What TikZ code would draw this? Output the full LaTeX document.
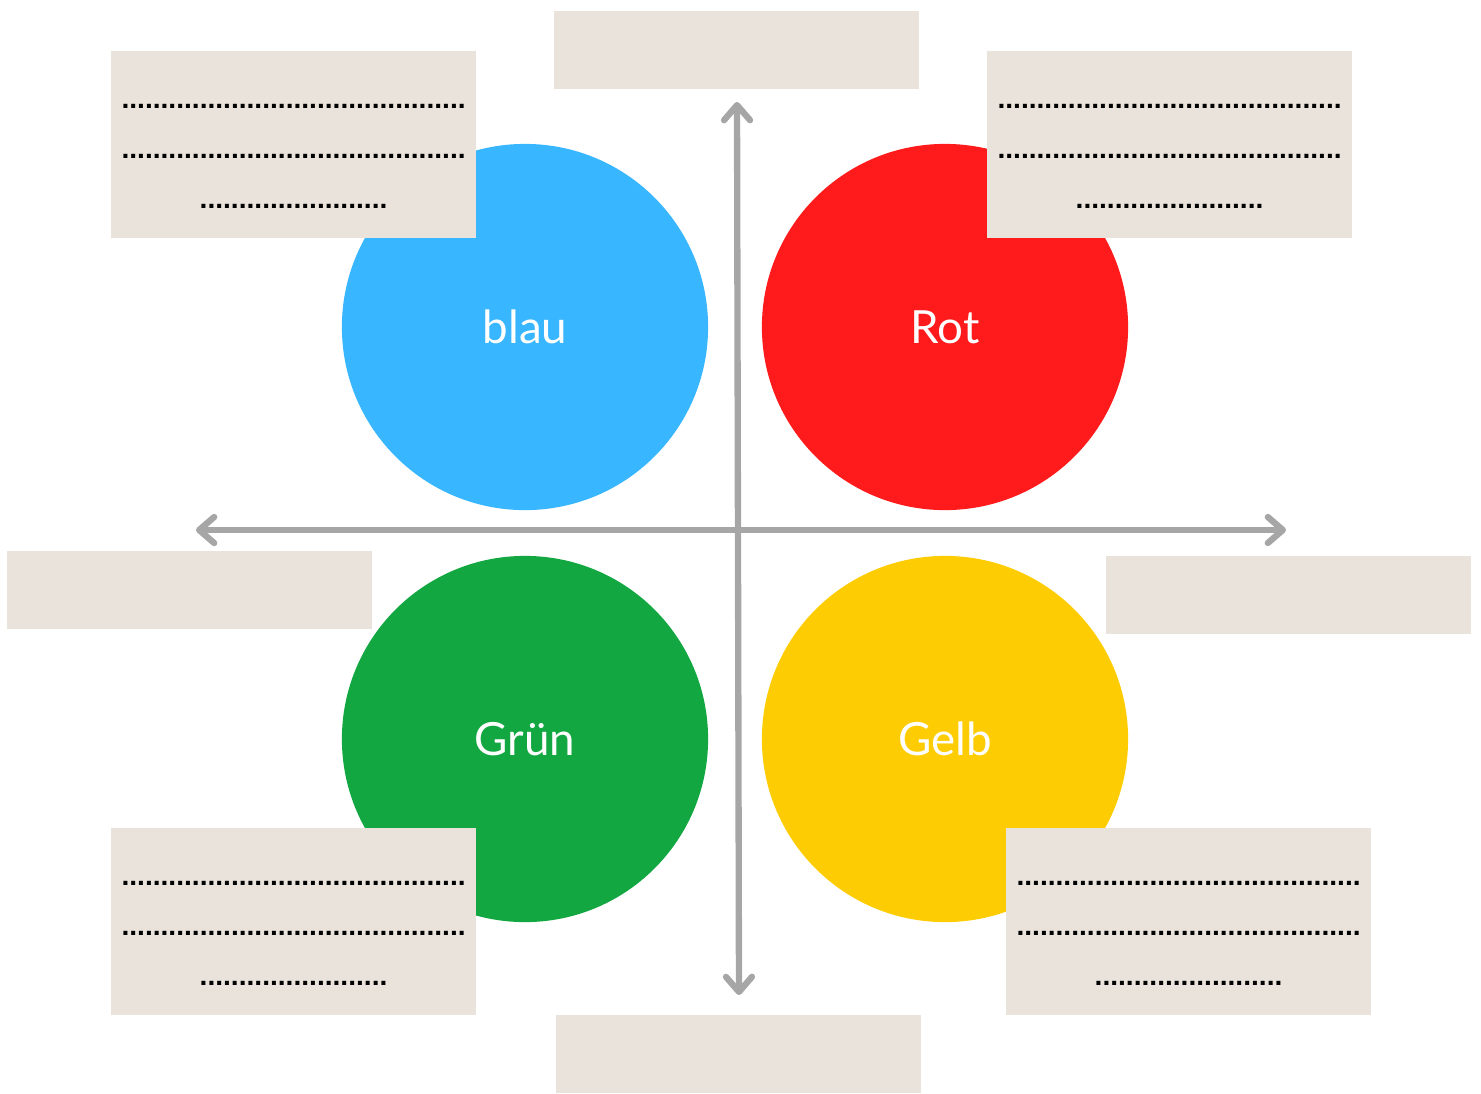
\documentclass[tikz,border=0pt]{standalone}
\usepackage{fontspec}
\setmainfont{Lato}
\newfontfamily\punktfont{Liberation Sans}
\usepackage{xcolor}
\usepackage{tikz}
\usetikzlibrary{positioning, arrows.meta}

\definecolor{kblau}{HTML}{38B6FF}
\definecolor{krot}{HTML}{FF1A1C}
\definecolor{kgruen}{HTML}{13A742}
\definecolor{kgelb}{HTML}{FECC02}
\definecolor{feldfarbe}{HTML}{E9E3DC}
\definecolor{achsfarbe}{HTML}{A6A6A6}

\newcommand{\punktzeilen}{%
............................................\\
............................................\\
........................}

\begin{document}
\begin{tikzpicture}[x=0.01cm,y=-0.01cm]
	\tikzstyle{kreis}=[circle,minimum size=3.66cm,inner sep=0pt,text=white,font=\fontsize{13}{16}\selectfont]
	\tikzstyle{feld}=[rectangle,fill=feldfarbe,minimum width=3.65cm,inner sep=0pt]
	\tikzstyle{punkte}=[align=center,inner sep=0pt,font=\punktfont\bfseries\fontsize{8}{14.2}\selectfont]
	\tikzstyle{achse}=[draw=achsfarbe,line width=1.8pt,line cap=round,<->,>={Straight Barb[length=1.5mm,width=2.6mm,round]}]
	\useasboundingbox (0,0) rectangle (1481,1093);
	% Kreise
	\node[kreis,fill=kblau](blau) at (525,327){blau};
	\node[kreis,fill=krot](rot) at (945,327){Rot};
	\node[kreis,fill=kgruen](gruen) at (525,739){Grün};
	\node[kreis,fill=kgelb](gelb) at (945,739){Gelb};
	% Felder mit Punkten
	\node[feld,minimum height=1.87cm](fblau) at (293.5,144.5){};
	\node[feld,minimum height=1.87cm](frot) at (1169.5,144.5){};
	\node[feld,minimum height=1.87cm](fgruen) at (293.5,921.5){};
	\node[feld,minimum height=1.87cm](fgelb) at (1188.5,921.5){};
	\node[punkte](tblau) at ([yshift=-0.12cm]fblau.center){\punktzeilen};
	\node[punkte](trot) at ([yshift=-0.12cm]frot.center){\punktzeilen};
	\node[punkte](tgruen) at ([yshift=-0.12cm]fgruen.center){\punktzeilen};
	\node[punkte](tgelb) at ([yshift=-0.12cm]fgelb.center){\punktzeilen};
	% leere Felder an den Achsen
	\node[feld,minimum height=0.78cm](foben) at (736.5,50){};
	\node[feld,minimum height=0.78cm](funten) at (738.5,1054){};
	\node[feld,minimum height=0.78cm](flinks) at (189.5,590){};
	\node[feld,minimum height=0.78cm](frechts) at (1288.5,595){};
	% Achsen
	\coordinate(links) at (196,530);
	\coordinate(rechts) at (1286,530);
	\coordinate(oben) at (737,102);
	\coordinate(unten) at (739,995);
	\draw[achse] (links) -- (rechts);
	\draw[achse] (oben) -- (unten);
\end{tikzpicture}
\end{document}
